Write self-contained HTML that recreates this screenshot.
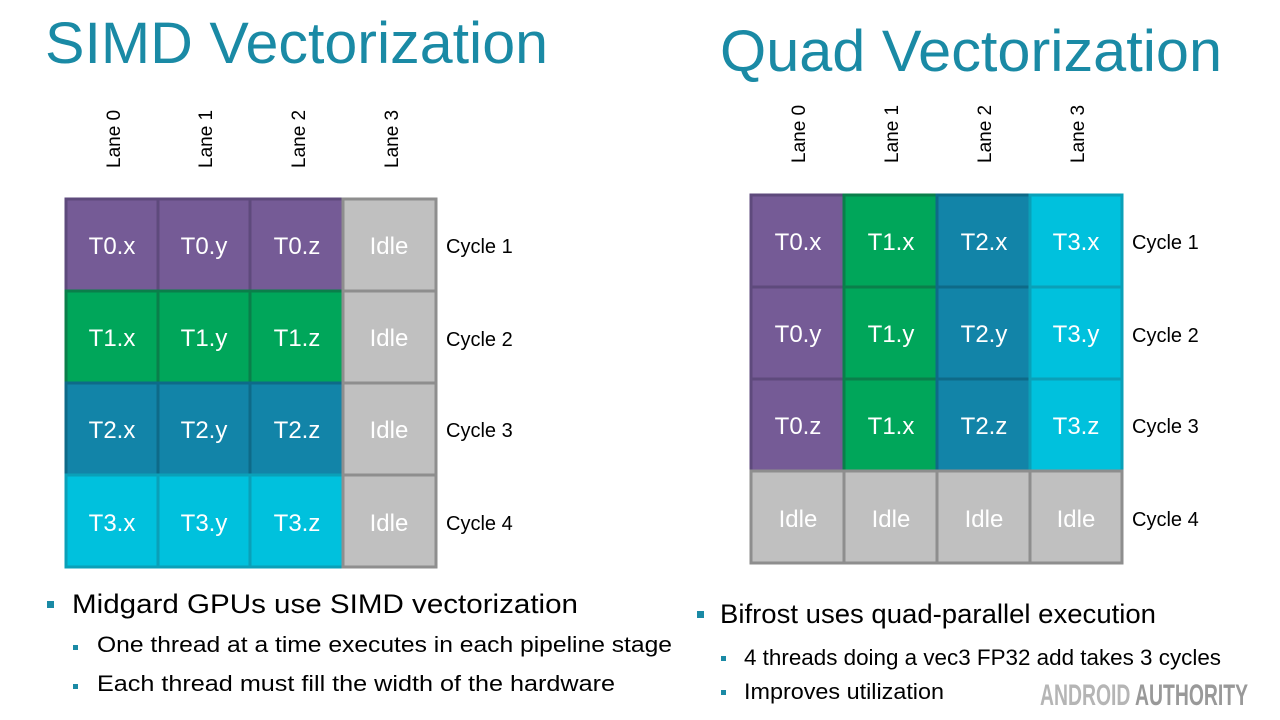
<!DOCTYPE html>
<html><head><meta charset="utf-8"><style>
html,body{margin:0;padding:0;background:#fff;width:1280px;height:720px;overflow:hidden}
svg{display:block}
text{font-family:"Liberation Sans",sans-serif}
</style></head><body>
<svg width="1280" height="720" viewBox="0 0 1280 720">
<text x="45" y="63" font-size="58" fill="#1a8aa5" textLength="503" lengthAdjust="spacingAndGlyphs">SIMD Vectorization</text>
<text x="720" y="71" font-size="58" fill="#1a8aa5" textLength="502" lengthAdjust="spacingAndGlyphs">Quad Vectorization</text>

<g font-size="19" fill="#000">
<text transform="translate(120,168) rotate(-90)">Lane 0</text>
<text transform="translate(212,168) rotate(-90)">Lane 1</text>
<text transform="translate(305,168) rotate(-90)">Lane 2</text>
<text transform="translate(398,168) rotate(-90)">Lane 3</text>
<text transform="translate(805,163) rotate(-90)">Lane 0</text>
<text transform="translate(898,163) rotate(-90)">Lane 1</text>
<text transform="translate(991,163) rotate(-90)">Lane 2</text>
<text transform="translate(1084,163) rotate(-90)">Lane 3</text>
</g>

<g stroke-width="3" font-size="24" fill="#fff" text-anchor="middle">
<!-- left grid -->
<g stroke="#5e4a7c"><rect x="66" y="199" width="92" height="92" fill="#755b96"/><rect x="158" y="199" width="92" height="92" fill="#755b96"/><rect x="250" y="199" width="93" height="92" fill="#755b96"/></g>
<g stroke="#0a7f4a"><rect x="66" y="291" width="92" height="92" fill="#00a65a"/><rect x="158" y="291" width="92" height="92" fill="#00a65a"/><rect x="250" y="291" width="93" height="92" fill="#00a65a"/></g>
<g stroke="#0e6a88"><rect x="66" y="383" width="92" height="92" fill="#1284a8"/><rect x="158" y="383" width="92" height="92" fill="#1284a8"/><rect x="250" y="383" width="93" height="92" fill="#1284a8"/></g>
<g stroke="#0aa0b8"><rect x="66" y="475" width="92" height="92" fill="#00c1dd"/><rect x="158" y="475" width="92" height="92" fill="#00c1dd"/><rect x="250" y="475" width="93" height="92" fill="#00c1dd"/></g>
<g stroke="#8e8e8e" fill="#c0c0c0"><rect x="343" y="199" width="93" height="92"/><rect x="343" y="291" width="93" height="92"/><rect x="343" y="383" width="93" height="92"/><rect x="343" y="475" width="93" height="92"/></g>
<g stroke="none">
<text x="112" y="254">T0.x</text><text x="204" y="254">T0.y</text><text x="297" y="254">T0.z</text><text x="389" y="254">Idle</text>
<text x="112" y="346">T1.x</text><text x="204" y="346">T1.y</text><text x="297" y="346">T1.z</text><text x="389" y="346">Idle</text>
<text x="112" y="438">T2.x</text><text x="204" y="438">T2.y</text><text x="297" y="438">T2.z</text><text x="389" y="438">Idle</text>
<text x="112" y="531">T3.x</text><text x="204" y="531">T3.y</text><text x="297" y="531">T3.z</text><text x="389" y="531">Idle</text>
</g>
<!-- right grid -->
<g stroke="#5e4a7c" fill="#755b96"><rect x="751" y="195" width="93" height="92"/><rect x="751" y="287" width="93" height="92"/><rect x="751" y="379" width="93" height="92"/></g>
<g stroke="#0a7f4a" fill="#00a65a"><rect x="844" y="195" width="93" height="92"/><rect x="844" y="287" width="93" height="92"/><rect x="844" y="379" width="93" height="92"/></g>
<g stroke="#0e6a88" fill="#1284a8"><rect x="937" y="195" width="93" height="92"/><rect x="937" y="287" width="93" height="92"/><rect x="937" y="379" width="93" height="92"/></g>
<g stroke="#0aa0b8" fill="#00c1dd"><rect x="1030" y="195" width="92" height="92"/><rect x="1030" y="287" width="92" height="92"/><rect x="1030" y="379" width="92" height="92"/></g>
<g stroke="#8e8e8e" fill="#c0c0c0"><rect x="751" y="471" width="93" height="92"/><rect x="844" y="471" width="93" height="92"/><rect x="937" y="471" width="93" height="92"/><rect x="1030" y="471" width="92" height="92"/></g>
<g stroke="none">
<text x="798" y="250">T0.x</text><text x="891" y="250">T1.x</text><text x="984" y="250">T2.x</text><text x="1076" y="250">T3.x</text>
<text x="798" y="342">T0.y</text><text x="891" y="342">T1.y</text><text x="984" y="342">T2.y</text><text x="1076" y="342">T3.y</text>
<text x="798" y="434">T0.z</text><text x="891" y="434">T1.x</text><text x="984" y="434">T2.z</text><text x="1076" y="434">T3.z</text>
<text x="798" y="527">Idle</text><text x="891" y="527">Idle</text><text x="984" y="527">Idle</text><text x="1076" y="527">Idle</text>
</g>
</g>

<g font-size="20" fill="#000">
<text x="446" y="253">Cycle 1</text><text x="446" y="346">Cycle 2</text><text x="446" y="437">Cycle 3</text><text x="446" y="530">Cycle 4</text>
<text x="1132" y="249">Cycle 1</text><text x="1132" y="342">Cycle 2</text><text x="1132" y="433">Cycle 3</text><text x="1132" y="526">Cycle 4</text>
</g>

<g fill="#1a8aa5">
<rect x="47" y="601" width="7" height="7"/>
<rect x="73" y="645" width="5" height="5"/>
<rect x="73" y="684" width="5" height="5"/>
<rect x="697" y="611" width="7" height="7"/>
<rect x="721" y="656" width="5" height="5"/>
<rect x="721" y="690" width="5" height="5"/>
</g>
<g fill="#000">
<text x="72" y="613" font-size="27" textLength="506" lengthAdjust="spacingAndGlyphs">Midgard GPUs use SIMD vectorization</text>
<text x="97" y="652" font-size="22" textLength="575" lengthAdjust="spacingAndGlyphs">One thread at a time executes in each pipeline stage</text>
<text x="97" y="691" font-size="22" textLength="518" lengthAdjust="spacingAndGlyphs">Each thread must fill the width of the hardware</text>
<text x="720" y="623" font-size="27" textLength="436" lengthAdjust="spacingAndGlyphs">Bifrost uses quad-parallel execution</text>
<text x="744" y="665" font-size="22" textLength="477" lengthAdjust="spacingAndGlyphs">4 threads doing a vec3 FP32 add takes 3 cycles</text>
<text x="744" y="699" font-size="22" textLength="200" lengthAdjust="spacingAndGlyphs">Improves utilization</text>
</g>
<text x="1040" y="705" font-size="30" font-weight="bold" textLength="208" lengthAdjust="spacingAndGlyphs"><tspan fill="#b5b5b5">ANDROID </tspan><tspan fill="#999">AUTHORITY</tspan></text>
</svg>
</body></html>
